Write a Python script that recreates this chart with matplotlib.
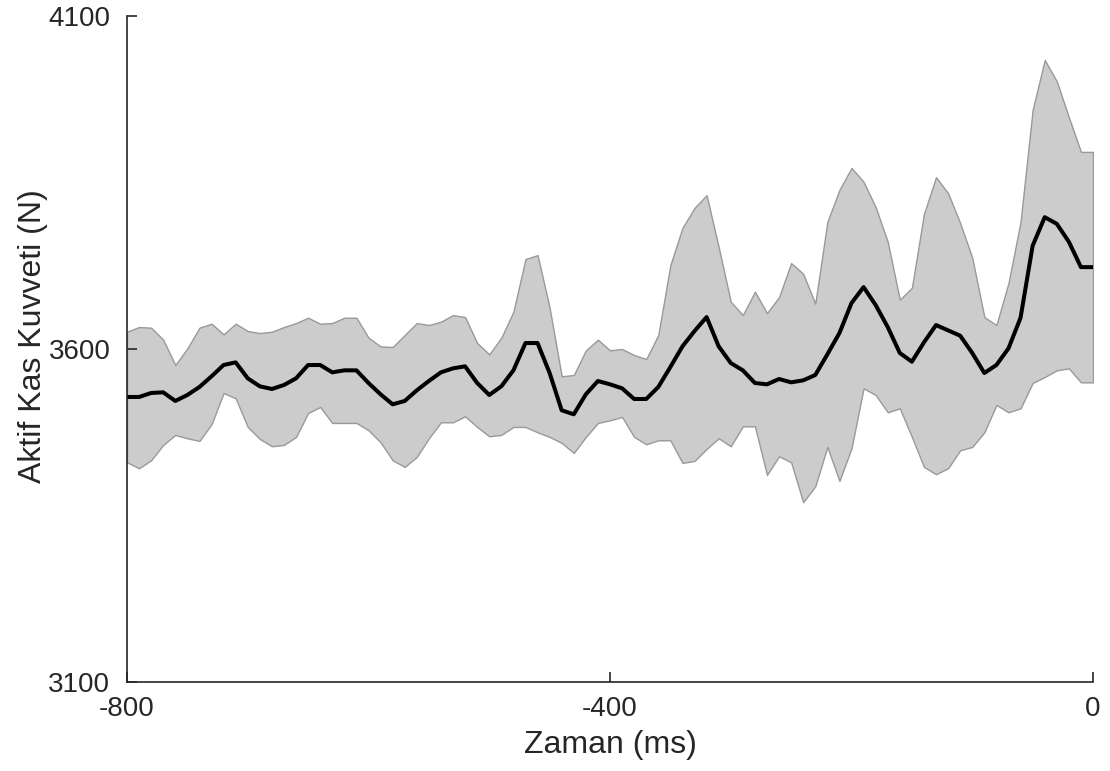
import matplotlib
matplotlib.use('Agg')

import matplotlib.pyplot as plt
import numpy as np

# time axis: one sample every 10 ms over the last 800 ms
time_ms = np.arange(-800, 1, 10)

mean_force = [
  3528, 3528, 3534, 3535, 3522, 3531, 3543, 3559, 3576, 3580,
  3556, 3544, 3540, 3546, 3556, 3576, 3576, 3565, 3568, 3568,
  3549, 3532, 3517, 3522, 3538, 3552, 3565, 3571, 3574, 3549,
  3531, 3544, 3568, 3609, 3609, 3564, 3508, 3502, 3532, 3552,
  3547, 3541, 3525, 3525, 3543, 3573, 3604, 3627, 3648, 3604,
  3579, 3568, 3549, 3547, 3555, 3550, 3553, 3561, 3592, 3624,
  3669, 3693, 3666, 3633, 3594, 3581, 3610, 3636, 3628, 3620,
  3594, 3564, 3576, 3601, 3647, 3755, 3798, 3788, 3761, 3723,
  3723,
]

upper_force = [
  3626, 3633, 3632, 3614, 3576, 3601, 3632, 3638, 3622, 3638,
  3627, 3624, 3626, 3633, 3639, 3647, 3638, 3639, 3647, 3647,
  3617, 3604, 3603, 3621, 3639, 3636, 3641, 3651, 3648, 3609,
  3592, 3617, 3656, 3735, 3741, 3662, 3559, 3561, 3598, 3614,
  3598, 3600, 3591, 3585, 3621, 3726, 3782, 3812, 3831, 3753,
  3671, 3651, 3686, 3654, 3678, 3729, 3713, 3668, 3791, 3839,
  3872, 3851, 3813, 3761, 3674, 3692, 3803, 3858, 3834, 3789,
  3737, 3648, 3636, 3699, 3791, 3959, 4034, 4002, 3948, 3896,
  3896,
]

lower_force = [
  3430, 3421, 3433, 3456, 3471, 3466, 3462, 3487, 3534, 3526,
  3483, 3465, 3454, 3456, 3468, 3504, 3513, 3489, 3489, 3489,
  3478, 3460, 3433, 3423, 3438, 3466, 3490, 3490, 3499, 3483,
  3469, 3471, 3483, 3483, 3475, 3468, 3459, 3444, 3468, 3489,
  3493, 3498, 3468, 3457, 3463, 3463, 3429, 3432, 3450, 3466,
  3454, 3484, 3484, 3411, 3439, 3430, 3370, 3394, 3453, 3402,
  3451, 3541, 3531, 3505, 3511, 3468, 3423, 3412, 3421, 3448,
  3453, 3475, 3516, 3505, 3511, 3549, 3558, 3568, 3571, 3550,
  3550,
]

x_ticks = [-800, -400, 0]
y_ticks = [3100, 3600, 4100]

plt.rcParams['font.family'] = ['Liberation Sans', 'DejaVu Sans']

fig = plt.figure(figsize=(11.1, 7.71), dpi=100)
ax = fig.add_axes([0.1144, 0.1154, 0.8703, 0.8638])

ax.fill_between(time_ms, lower_force, upper_force, facecolor='#cccccc',
                edgecolor='#999999', linewidth=1.0)
ax.plot(time_ms, mean_force, color='black', linewidth=2.9)

ax.set_xlim(-800, 0)
ax.set_ylim(3100, 4100)
ax.set_xticks(x_ticks)
ax.set_yticks(y_ticks)
ax.set_xticklabels([str(t) for t in x_ticks])
ax.set_yticklabels([str(t) for t in y_ticks])

for side in ['top', 'right']:
  ax.spines[side].set_visible(False)
for side in ['left', 'bottom']:
  ax.spines[side].set_color('#262626')
  ax.spines[side].set_linewidth(1.2)

ax.tick_params(direction='in', length=7, width=1.2, colors='#262626',
               labelsize=20, labelcolor='#262626')
ax.tick_params(axis='y', pad=12)
ax.tick_params(axis='x', pad=10)

ax.set_xlabel('Zaman (ms)', fontsize=23, color='#262626', labelpad=6)
ax.set_ylabel('Aktif Kas Kuvveti (N)', fontsize=23, color='#262626', labelpad=0)
ax.yaxis.label.set_y(0.52)

fig.savefig('out.png', dpi=100)
